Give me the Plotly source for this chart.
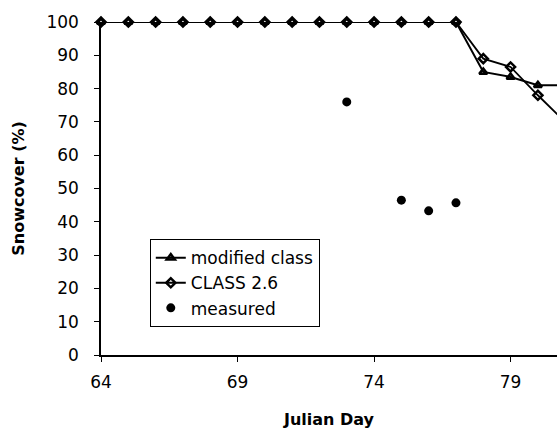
import plotly.graph_objects as go

# Julian days and snow cover (%) for the two model runs
days = [64, 65, 66, 67, 68, 69, 70, 71, 72, 73, 74, 75, 76, 77, 78, 79, 80, 81]
modified_class = [100, 100, 100, 100, 100, 100, 100, 100, 100, 100, 100, 100, 100, 100, 85, 83.5, 81, 81]
class_26 = [100, 100, 100, 100, 100, 100, 100, 100, 100, 100, 100, 100, 100, 100, 89, 86.5, 78, 70]

# Field observations
measured_days = [73, 75, 76, 77]
measured = [76, 46.5, 43.3, 45.7]

x_ticks = [64, 69, 74, 79]
y_ticks = [0, 10, 20, 30, 40, 50, 60, 70, 80, 90, 100]

font_family = "DejaVu Sans, Arial, sans-serif"

fig = go.Figure()
fig.add_trace(go.Scatter(
    x=days, y=modified_class, name="modified class", mode="lines+markers",
    line=dict(color="black", width=2),
    marker=dict(symbol="triangle-up-open", size=7, color="black", line=dict(width=2.5, color="black")),
    cliponaxis=False,
))
fig.add_trace(go.Scatter(
    x=days, y=class_26, name="CLASS 2.6", mode="lines+markers",
    line=dict(color="black", width=1.8),
    marker=dict(symbol="diamond-open", size=7, color="black", line=dict(width=2.5, color="black")),
    cliponaxis=False,
))
fig.add_trace(go.Scatter(
    x=measured_days, y=measured, name="measured", mode="markers",
    marker=dict(symbol="circle", size=9, color="black"),
    cliponaxis=False,
))

fig.update_layout(
    width=557, height=429,
    margin=dict(l=101, r=0, t=22, b=74),
    paper_bgcolor="white", plot_bgcolor="white",
    font=dict(family=font_family, size=17, color="black"),
    showlegend=True,
    legend=dict(
        x=0.107, y=0.348, xanchor="left", yanchor="top",
        bordercolor="black", borderwidth=1, bgcolor="white",
        font=dict(size=17, family=font_family),
        tracegroupgap=0, itemwidth=30,
    ),
)
fig.update_xaxes(
    range=[64, 80.7], tickvals=x_ticks, ticktext=[str(v) for v in x_ticks],
    showgrid=False, zeroline=False, showline=True, linecolor="black", linewidth=1.5,
    ticks="outside", ticklen=5, tickcolor="black", ticklabelstandoff=6,
    tickfont=dict(size=17),
    title=dict(text="<b>Julian Day</b>", font=dict(size=16), standoff=25),
)
fig.update_yaxes(
    range=[0, 100], tickvals=y_ticks,
    showgrid=False, zeroline=False, showline=True, linecolor="black", linewidth=1.5,
    ticks="outside", ticklen=5, tickcolor="black", ticklabelstandoff=12,
    tickfont=dict(size=17),
    title=dict(text="<b>Snowcover (%)</b>", font=dict(size=16), standoff=18),
)

fig.write_html("out.html")
